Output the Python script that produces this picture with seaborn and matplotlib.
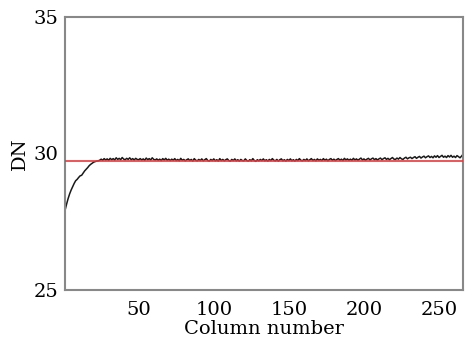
import matplotlib
matplotlib.use("Agg")
import matplotlib.pyplot as plt
import seaborn as sns
import numpy as np
import pandas as pd

dn_values = [
    27.93, 28.15, 28.35, 28.52, 28.66, 28.78, 28.90, 29.00, 29.05, 29.12,
    29.18, 29.20, 29.28, 29.36, 29.42, 29.48, 29.55, 29.60, 29.64, 29.68,
    29.70, 29.72,
    29.73, 29.75, 29.79, 29.75, 29.81, 29.76, 29.80, 29.75,
    29.82, 29.77, 29.81, 29.76, 29.84, 29.78, 29.82, 29.77, 29.85, 29.79,
    29.77, 29.82, 29.78, 29.84, 29.77, 29.81, 29.76, 29.82, 29.78, 29.77,
    29.81, 29.76, 29.80, 29.75, 29.83, 29.77, 29.81, 29.76, 29.84, 29.78,
    29.76, 29.80, 29.75, 29.79, 29.74, 29.81, 29.76, 29.82, 29.75, 29.79,
    29.74, 29.79, 29.75, 29.81, 29.74, 29.78, 29.73, 29.82, 29.75, 29.78,
    29.73, 29.77, 29.80, 29.74, 29.78, 29.72, 29.81, 29.75, 29.73, 29.78,
    29.74, 29.80, 29.73, 29.77, 29.81, 29.74, 29.72, 29.78, 29.74, 29.80,
    29.73, 29.77, 29.72, 29.81, 29.74, 29.78, 29.73, 29.77, 29.80, 29.74,
    29.72, 29.78, 29.74, 29.80, 29.73, 29.77, 29.72, 29.78, 29.74, 29.73,
    29.80, 29.74, 29.72, 29.77, 29.73, 29.81, 29.74, 29.71, 29.77, 29.73,
    29.78, 29.74, 29.80, 29.73, 29.77, 29.72, 29.78, 29.74, 29.81, 29.75,
    29.73, 29.78, 29.72, 29.77, 29.80, 29.73, 29.77, 29.72, 29.78, 29.74,
    29.80, 29.73, 29.77, 29.72, 29.78, 29.74, 29.81, 29.75, 29.73, 29.78,
    29.74, 29.80, 29.73, 29.77, 29.81, 29.74, 29.78, 29.73, 29.80, 29.75,
    29.78, 29.74, 29.81, 29.75, 29.79, 29.73, 29.78, 29.81, 29.75, 29.79,
    29.74, 29.78, 29.81, 29.75, 29.79, 29.74, 29.82, 29.76, 29.80, 29.75,
    29.79, 29.75, 29.82, 29.76, 29.80, 29.75, 29.79, 29.83, 29.76, 29.80,
    29.75, 29.79, 29.82, 29.76, 29.80, 29.83, 29.77, 29.81, 29.76, 29.80,
    29.83, 29.77, 29.81, 29.84, 29.78, 29.82, 29.77, 29.81, 29.85, 29.79,
    29.78, 29.83, 29.79, 29.85, 29.80, 29.78, 29.83, 29.86, 29.80, 29.84,
    29.86, 29.81, 29.85, 29.88, 29.82, 29.86, 29.89, 29.83, 29.87, 29.90,
    29.84, 29.88, 29.91, 29.85, 29.89, 29.84, 29.91, 29.86, 29.92, 29.85,
    29.89, 29.93, 29.86, 29.90, 29.85, 29.92, 29.87, 29.93, 29.86, 29.90,
    29.85, 29.92, 29.88, 29.84, 29.90, 29.97,
]
columns = list(range(1, len(dn_values) + 1))
reference_level = 29.72
x_ticks = [50, 100, 150, 200, 250]
y_ticks = [25, 30, 35]

df = pd.DataFrame({"Column": columns, "DN": dn_values})

sns.set_theme(style="white")
plt.rcParams["font.family"] = ["DejaVu Serif"]
plt.rcParams["text.color"] = "black"
plt.rcParams["axes.labelcolor"] = "black"
plt.rcParams["xtick.color"] = "black"
plt.rcParams["ytick.color"] = "black"

fig = plt.figure(figsize=(4.72, 3.44), dpi=100)
ax = fig.add_axes([0.138, 0.157, 0.843, 0.794])

sns.lineplot(data=df, x="Column", y="DN", ax=ax, color="#1a1a1a", linewidth=1.1)
ax.axhline(reference_level, color="#e8383d", linewidth=1.2, zorder=3)

ax.set_xlim(1, len(dn_values))
ax.set_ylim(25, 35)
ax.set_xticks(x_ticks)
ax.set_yticks(y_ticks)
ax.set_xlabel("Column number", fontsize=14, labelpad=1)
ax.set_ylabel("DN", fontsize=14, labelpad=3)
ax.tick_params(axis="both", direction="in", length=4, width=1, color="#888888",
               labelcolor="black", labelsize=14)
ax.tick_params(axis="x", pad=8)
ax.tick_params(axis="y", pad=5)
for s in ax.spines.values():
    s.set_color("#888888")
    s.set_linewidth(1.5)
    s.set_visible(True)

fig.savefig("out.png", dpi=100)
